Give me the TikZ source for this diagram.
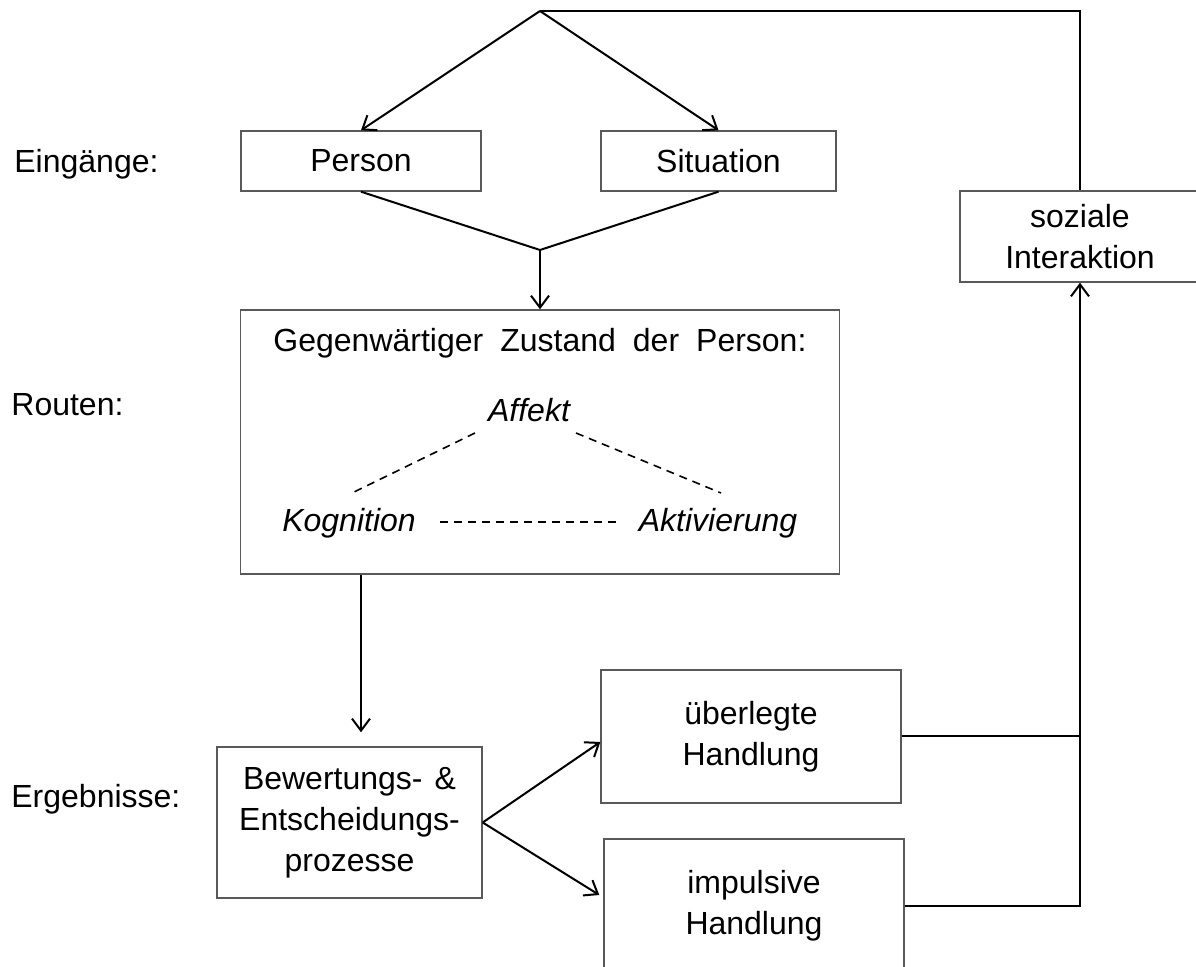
\documentclass[tikz,border=0pt]{standalone}
\usepackage{fontspec}
\setmainfont{Liberation Sans}
\usetikzlibrary{arrows.meta}
\begin{document}
\begin{tikzpicture}[x=0.5pt,y=-0.5pt,
  font=\fontsize{16}{20.5}\selectfont,
  box/.style={draw=black!65, line width=0.7pt, inner sep=0pt, align=center},
  word/.style={inner sep=0pt, anchor=base},
  link/.style={line width=1pt},
  arr/.style={link, -{Straight Barb[length=6pt,width=9pt]}},
  rel/.style={dash pattern=on 4pt off 3pt, line width=0.8pt}
]
\useasboundingbox (0,0) rectangle (1196,967);

% row labels
\node[inner sep=0pt, anchor=base west] (lEin) at (14,173) {Eingänge:};
\node[inner sep=0pt, anchor=base west] (lRou) at (11,416) {Routen:};
\node[inner sep=0pt, anchor=base west] (lErg) at (11,808) {Ergebnisse:};

% inputs
\node[box, minimum width=120pt, minimum height=30pt] (person) at (361,161) {Person};
\node[box, minimum width=117.5pt, minimum height=30pt] (situation) at (718.5,161) {Situation};

% current state of the person
\node[box, minimum width=299.5pt, minimum height=132pt] (zustand) at (540,442) {};
\node[word] (titel) at (540,352) {{\spaceskip=8.5pt Gegenwärtiger Zustand der Person:}};
\node[word, font=\fontsize{16}{20.5}\selectfont\itshape] (affekt) at (529,422) {Affekt};
\node[word, font=\fontsize{16}{20.5}\selectfont\itshape] (kognition) at (349,532) {Kognition};
\node[word, font=\fontsize{16}{20.5}\selectfont\itshape] (aktiv) at (718,532) {Aktivierung};

% outcomes
\node[box, minimum width=132.5pt, minimum height=75.5pt] (bew) at (349.5,822.5)
  {Bewertungs-\hspace{6pt}\&\\Entscheidungs-\\prozesse};
\node[box, minimum width=150pt, minimum height=66.5pt] (ueb) at (751,736.5) {überlegte\\Handlung};
\node[box, minimum width=150pt, minimum height=67pt] (imp) at (754,906) {impulsive\\Handlung};
\node[box, minimum width=120pt, minimum height=45.5pt] (sozial) at (1080,236.5) {soziale\\Interaktion};

% helper points of the connectors
\coordinate (apex) at (540,11);
\coordinate (merge) at (540,250);
\coordinate (ak1) at (475,433);
\coordinate (ak2) at (352,493);
\coordinate (aa1) at (576,433);
\coordinate (aa2) at (721,493);
\coordinate (ka1) at (440,522);
\coordinate (ka2) at (618,522);

% connectors
\draw[arr] (apex) -- (person.north);
\draw[arr] (apex) -- (situation.north);
\draw[link] (apex) -| (sozial.north);
\draw[link] (person.south) -- (merge) -- (situation.south);
\draw[arr] (merge) -- (zustand.north);

\draw[rel] (ak1) -- (ak2);
\draw[rel] (aa1) -- (aa2);
\draw[rel] (ka1) -- (ka2);

\draw[arr, shorten >=7pt] (zustand.south -| person.south) -- (bew.north -| person.south);
\draw[arr] (bew.east) -- ([yshift=-2.75pt]ueb.west);
\draw[arr] (bew.east) -- ([shift={(-2pt,5.5pt)}]imp.west);
\draw[link] (ueb.east) -- (ueb.east -| sozial.south);
\draw[arr] (imp.east) -| (sozial.south);
\end{tikzpicture}
\end{document}
